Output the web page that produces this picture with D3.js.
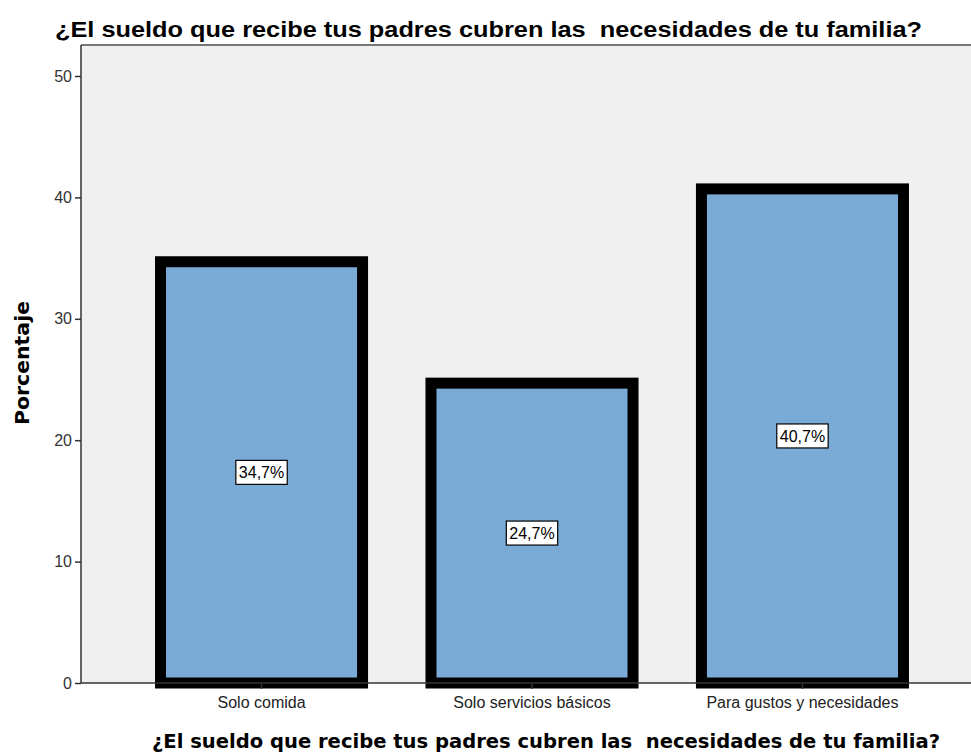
<!DOCTYPE html>
<html>
<head>
<meta charset="utf-8">
<script src="https://cdn.jsdelivr.net/npm/d3@7"></script>
<style>
  body { margin: 0; background: #fff; }
  text { white-space: pre; }
</style>
</head>
<body>
<div id="chart"></div>
<script>
// Chart data
const categories = ["Solo comida", "Solo servicios básicos", "Para gustos y necesidades"];
const percents = [34.7, 24.7, 40.7];
const yTicks = [0, 10, 20, 30, 40, 50];
const titleText = "¿El sueldo que recibe tus padres cubren las  necesidades de tu familia?";
const yLabel = "Porcentaje";

function init() {
    const width = 971;
    const height = 755;

    // plot area edges (right edge runs off the picture)
    const left = 81, top = 45, bottom = 683, right = 983;

    const svg = d3.select("#chart")
        .append("svg")
        .attr("width", width)
        .attr("height", height);

    const x = d3.scaleBand()
        .domain(categories)
        .range([left, right])
        .paddingInner(0.253)
        .paddingOuter(0.294);

    const y = d3.scaleLinear()
        .domain([0, 50])
        .range([bottom, 76]);

    // background
    svg.append("rect")
        .attr("x", left)
        .attr("y", top)
        .attr("width", right - left)
        .attr("height", bottom - top)
        .attr("fill", "#f0f0f0");

    svg.append("line")
        .attr("x1", left).attr("x2", right)
        .attr("y1", top).attr("y2", top)
        .attr("stroke", "#777")
        .attr("stroke-width", 2);

    // bars
    svg.selectAll("rect.bar")
        .data(percents)
        .enter().append("rect")
        .attr("class", "bar")
        .attr("x", (d, i) => x(categories[i]))
        .attr("y", d => y(d))
        .attr("width", x.bandwidth())
        .attr("height", d => y(0) - y(d))
        .attr("fill", "#7aaad6")
        .attr("stroke", "#000")
        .attr("stroke-width", 11);

    // y axis
    const yAxis = svg.append("g")
        .attr("transform", `translate(${left},0)`)
        .call(d3.axisLeft(y).tickValues(yTicks).tickSize(6).tickPadding(3).tickFormat(d3.format("d")));
    yAxis.select(".domain").attr("d", `M0,${top}V${bottom}`).attr("stroke", "#333").attr("stroke-width", 1.5);
    yAxis.selectAll(".tick line").attr("stroke", "#333").attr("stroke-width", 1.5);
    yAxis.selectAll(".tick text")
        .attr("font-family", "Liberation Sans, Arial, sans-serif")
        .attr("font-size", 16)
        .attr("fill", "#333");

    // x axis
    const xAxis = svg.append("g")
        .attr("transform", `translate(0,${bottom})`)
        .call(d3.axisBottom(x).tickSize(6).tickPadding(8).tickSizeOuter(0));
    xAxis.select(".domain").attr("d", `M${left},0H${right}`).attr("stroke", "#333").attr("stroke-width", 1.5);
    xAxis.selectAll(".tick line").attr("stroke", "#333").attr("stroke-width", 1.5);
    xAxis.selectAll(".tick text")
        .attr("font-family", "Liberation Sans, Arial, sans-serif")
        .attr("font-size", 16)
        .attr("fill", "#222");

    // value labels
    const labels = svg.selectAll("g.vlabel")
        .data(percents)
        .enter().append("g")
        .attr("class", "vlabel")
        .attr("transform", (d, i) => `translate(${x(categories[i]) + x.bandwidth() / 2},${y(d / 2)})`);

    labels.append("text")
        .attr("text-anchor", "middle")
        .attr("dy", "0.36em")
        .attr("font-family", "Liberation Sans, Arial, sans-serif")
        .attr("font-size", 16)
        .attr("fill", "#000")
        .text(d => d3.format(".1f")(d).replace(".", ",") + "%");

    labels.each(function () {
        const g = d3.select(this);
        const bb = g.select("text").node().getBBox();
        g.insert("rect", "text")
            .attr("x", bb.x - 3)
            .attr("y", -12)
            .attr("width", bb.width + 6)
            .attr("height", 24)
            .attr("fill", "#fff")
            .attr("stroke", "#000")
            .attr("stroke-width", 1.2);
    });

    // titles
    svg.append("text")
        .attr("x", 55)
        .attr("y", 37)
        .attr("font-family", "Liberation Sans Narrow, Arial Narrow, Liberation Sans, sans-serif")
        .attr("font-weight", "bold")
        .attr("font-size", 22)
        .attr("textLength", 867)
        .attr("lengthAdjust", "spacingAndGlyphs")
        .text(titleText);

    svg.append("text")
        .attr("x", 152)
        .attr("y", 748)
        .attr("font-family", "DejaVu Sans, Verdana, sans-serif")
        .attr("font-weight", "bold")
        .attr("font-size", 19)
        .attr("textLength", 788)
        .attr("lengthAdjust", "spacingAndGlyphs")
        .text(titleText);

    svg.append("text")
        .attr("transform", "translate(29,363) rotate(-90)")
        .attr("text-anchor", "middle")
        .attr("font-family", "DejaVu Sans, Verdana, sans-serif")
        .attr("font-weight", "bold")
        .attr("font-size", 19)
        .attr("textLength", 124)
        .attr("lengthAdjust", "spacingAndGlyphs")
        .text(yLabel);
}
window.onload = init;
</script>
</body>
</html>
